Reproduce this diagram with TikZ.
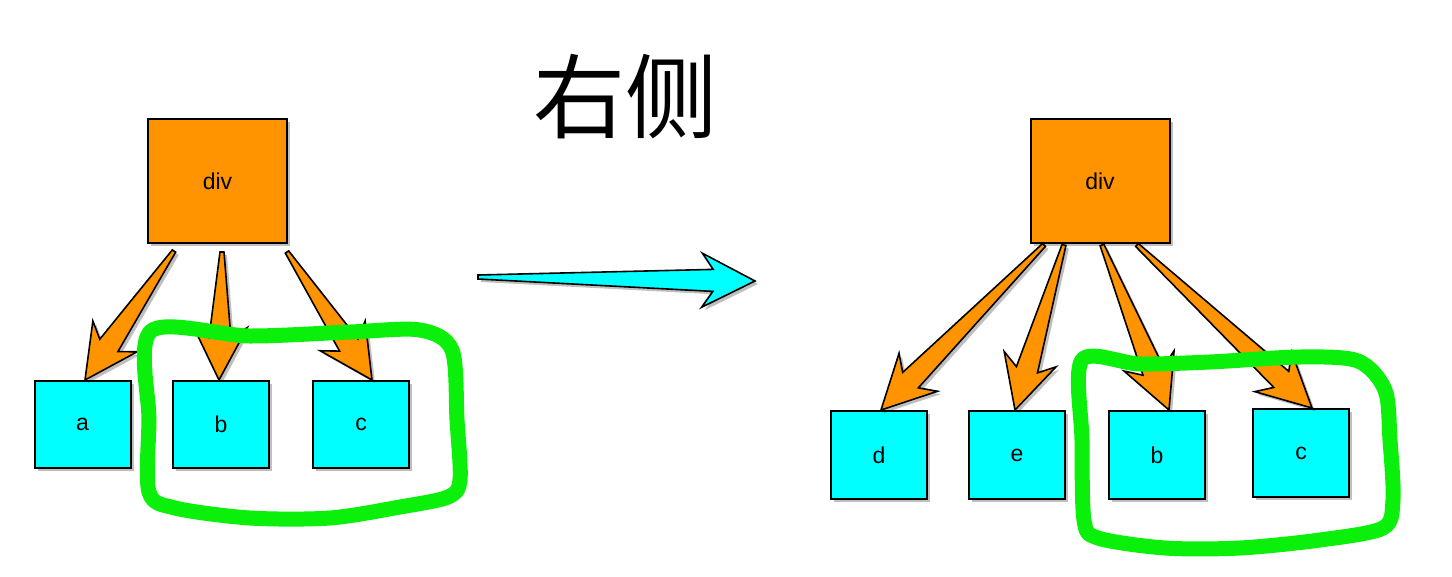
\documentclass[tikz,border=0pt]{standalone}
\usepackage{fontspec}
\setmainfont{Liberation Sans}
\newfontfamily\cjk{Noto Sans CJK SC}
\usetikzlibrary{calc,shadows}
\definecolor{boxorange}{RGB}{255,148,0}
\definecolor{boxcyan}{RGB}{0,255,255}
\definecolor{loopgreen}{RGB}{10,240,10}
\tikzset{
  softshadow/.style={drop shadow={shadow xshift=3pt,shadow yshift=-3pt,opacity=0.25,fill=black}},
  parentbox/.style={draw=black,line width=2pt,fill=boxorange,minimum width=139pt,minimum height=124pt,inner sep=0pt,softshadow,font=\fontsize{23}{26}\selectfont},
  childbox/.style={draw=black,line width=2pt,fill=boxcyan,minimum width=96pt,minimum height=87pt,inner sep=0pt,softshadow,font=\fontsize{23}{26}\selectfont},
  fatarrowline/.style={draw=black,line width=1.6pt,line join=miter,softshadow},
  handloop/.style={draw=loopgreen,line width=15pt,line join=round,line cap=round}
}
\newcommand\fatarrow[3]{%
  \coordinate (#2N) at ($(#3)!42pt!(#2)$);
  \coordinate (#2B) at ($(#3)!53pt!(#2)$);
  \filldraw[fatarrowline,fill=#1]
    ($(#2)!2pt!90:(#3)$) -- ($(#2N)!11pt!90:(#3)$) -- ($(#2B)!27pt!90:(#3)$) -- (#3)
    -- ($(#2B)!27pt!-90:(#3)$) -- ($(#2N)!11pt!-90:(#3)$) -- ($(#2)!2pt!-90:(#3)$) -- cycle;}
\begin{document}
\begin{tikzpicture}[x=1pt,y=-1pt]
\useasboundingbox[fill=white] (0,0) rectangle (1452,576);
% title
\node (title) [font=\cjk\fontsize{92}{96}\selectfont] at (625,97) {右侧};
% left tree
\node (divL) [parentbox] at (217.5,181) {div};
\node (aL) [childbox] at (82.5,424.5) {a};
\node (bL) [childbox] at (221,424.5) {b};
\node (cL) [childbox] at (361,424.5) {c};
% right tree
\node (divR) [parentbox] at (1100,181) {div};
\node (dR) [childbox,minimum height=88pt] at (879,455) {d};
\node (eR) [childbox,minimum height=88pt] at (1017,455) {e};
\node (bR) [childbox,minimum height=88pt] at (1157,455) {b};
\node (cR) [childbox,minimum height=88pt] at (1301,453) {c};
% connector end points
\coordinate (tLa) at ($(divL.south)+(-43.5,7)$);
\coordinate (hLa) at ($(aL.north)+(2.5,0)$);
\coordinate (tLb) at ($(divL.south)+(4.5,8)$);
\coordinate (hLb) at ($(bL.north)+(-2,0)$);
\coordinate (tLc) at ($(divL.south)+(69.5,8)$);
\coordinate (hLc) at ($(cL.north)+(11,0)$);
\coordinate (tRd) at ($(divR.south)+(-56,1)$);
\coordinate (hRd) at ($(dR.north)+(2,0)$);
\coordinate (tRe) at ($(divR.south)+(-36,1)$);
\coordinate (hRe) at ($(eR.north)+(-2,0)$);
\coordinate (tRb) at ($(divR.south)+(2,1)$);
\coordinate (hRb) at ($(bR.north)+(12,0)$);
\coordinate (tRc) at ($(divR.south)+(37,1)$);
\coordinate (hRc) at ($(cR.north)+(11,0)$);
\coordinate (tM) at (478,277);
\coordinate (hM) at (755,281);
% arrows
\fatarrow{boxorange}{tLa}{hLa}
\fatarrow{boxorange}{tLb}{hLb}
\fatarrow{boxorange}{tLc}{hLc}
\fatarrow{boxorange}{tRd}{hRd}
\fatarrow{boxorange}{tRe}{hRe}
\fatarrow{boxorange}{tRb}{hRb}
\fatarrow{boxorange}{tRc}{hRc}
\fatarrow{boxcyan}{tM}{hM}
% green hand-drawn loops
\draw[handloop] plot[smooth cycle,tension=0.5] coordinates {(151,331) (250,336) (350,332) (420,330) (452,350) (457,420) (460,480) (448,497) (400,507) (330,518) (250,518) (175,508) (149,492) (149,420)};
\draw[handloop] plot[smooth cycle,tension=0.5] coordinates {(1082,360) (1140,364) (1210,362) (1300,357) (1358,361) (1385,390) (1390,440) (1393,500) (1383,528) (1320,540) (1240,548) (1165,548) (1098,538) (1084,520) (1082,440)};
\end{tikzpicture}
\end{document}
